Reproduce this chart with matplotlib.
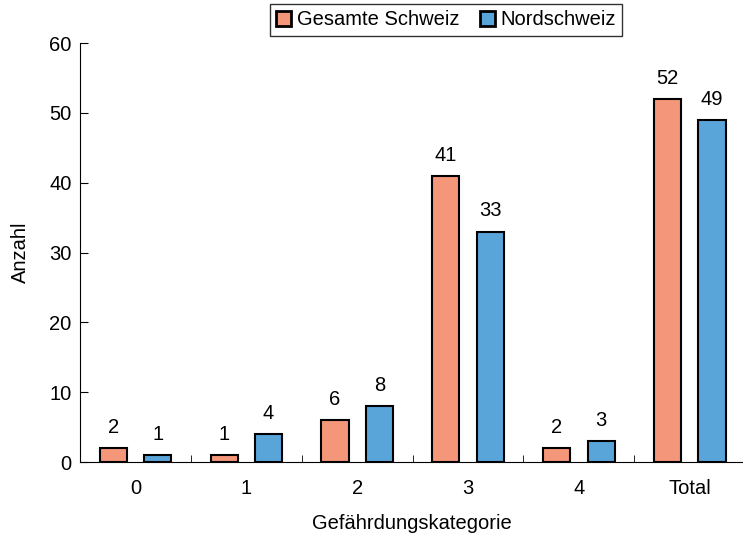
import matplotlib.pyplot as plt
import numpy as np

categories = ["0", "1", "2", "3", "4", "Total"]
gesamte_schweiz = [2, 1, 6, 41, 2, 52]
nordschweiz = [1, 4, 8, 33, 3, 49]

plt.rcParams["font.family"] = ["Liberation Sans", "DejaVu Sans"]
plt.rcParams["font.size"] = 14.5

fig = plt.figure(figsize=(7.43, 5.35), dpi=100)
ax = fig.add_axes([80 / 743, 73 / 535, 663 / 743, 419 / 535])

x = np.arange(len(categories))
w = 0.245
b1 = ax.bar(x - 0.2, gesamte_schweiz, w, color="#f4967a", edgecolor="black",
            linewidth=1.5, label="Gesamte Schweiz")
b2 = ax.bar(x + 0.2, nordschweiz, w, color="#59a5da", edgecolor="black",
            linewidth=1.5, label="Nordschweiz")
ax.bar_label(b1, padding=8)
ax.bar_label(b2, padding=8)

ax.set_xlim(-0.5, 5.48)
ax.set_ylim(0, 60)
ax.set_yticks(range(0, 61, 10))
ax.set_xticks(x)
ax.set_xticklabels(categories)
ax.set_xticks(np.arange(0.5, 5, 1), minor=True)
ax.tick_params(axis="x", which="major", length=0, pad=12)
ax.tick_params(axis="x", which="minor", direction="in", length=5)
ax.tick_params(axis="y", direction="in", length=6, pad=6)
ax.spines["top"].set_visible(False)
ax.spines["right"].set_visible(False)
ax.set_ylabel("Anzahl", labelpad=14)
ax.set_xlabel("Gefährdungskategorie", labelpad=12)

leg = ax.legend(loc="upper center", bbox_to_anchor=(0.552, 1.092), ncol=2,
                frameon=True, fancybox=False, edgecolor="black",
                handlelength=0.75, handleheight=0.75, handletextpad=0.3,
                columnspacing=1.0, borderpad=0.3, borderaxespad=0)
leg.get_frame().set_linewidth(1.0)
for h in leg.legend_handles:
    h.set_linewidth(2)

fig.savefig("out.png", dpi=100)
